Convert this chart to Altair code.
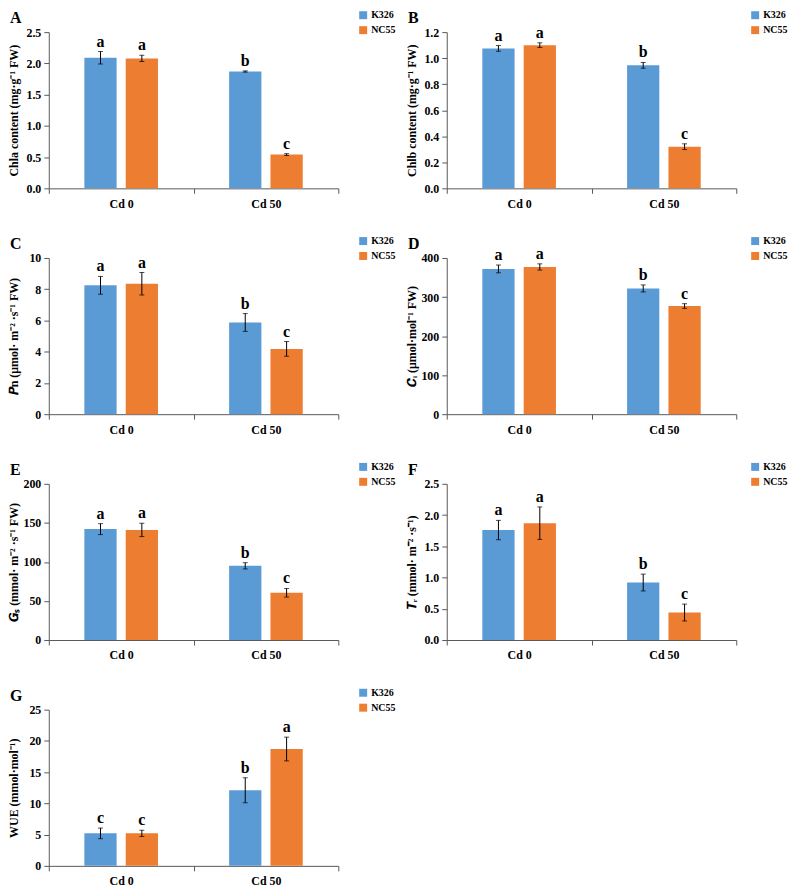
import altair as alt
import pandas as pd

treatments = ["Cd 0", "Cd 50"]
cultivars = ["K326", "NC55"]
colors = ["#5B9BD5", "#ED7D31"]

panel_ids = ["A", "B", "C", "D", "E", "F", "G"]
y_titles = [
    "Chla content (mg·g⁻¹ FW)",
    "Chlb content (mg·g⁻¹ FW)",
    "𝑷n (μmol· m⁻² ·s⁻¹ FW)",
    "𝑪ᵢ (μmol·mol⁻¹ FW)",
    "𝑮ₛ (mmol· m⁻² ·s⁻¹ FW)",
    "𝑻ᵣ (mmol· m⁻² ·s⁻¹)",
    "WUE (mmol·mol⁻¹)",
]
y_ticks = [
    [0, 0.5, 1.0, 1.5, 2.0, 2.5],
    [0, 0.2, 0.4, 0.6, 0.8, 1.0, 1.2],
    [0, 2, 4, 6, 8, 10],
    [0, 100, 200, 300, 400],
    [0, 50, 100, 150, 200],
    [0, 0.5, 1.0, 1.5, 2.0, 2.5],
    [0, 5, 10, 15, 20, 25],
]
y_formats = [".1f", ".1f", "d", "d", "d", ".1f", "d"]

# values per panel: [Cd 0, Cd 50]
k326_mean = [[2.09, 1.87], [1.075, 0.945], [8.25, 5.87], [372, 322], [142, 95], [1.76, 0.92], [5.2, 12.1]]
k326_err = [[0.10, 0.01], [0.022, 0.022], [0.57, 0.57], [10, 9], [7, 4], [0.155, 0.135], [0.85, 2.0]]
nc55_mean = [[2.08, 0.54], [1.10, 0.32], [8.35, 4.18], [377, 277], [141, 60.5], [1.87, 0.44], [5.2, 18.7]]
nc55_err = [[0.05, 0.015], [0.018, 0.022], [0.72, 0.47], [8, 6], [8.5, 5.5], [0.26, 0.135], [0.5, 1.9]]
k326_letters = [["a", "b"], ["a", "b"], ["a", "b"], ["a", "b"], ["a", "b"], ["a", "b"], ["c", "b"]]
nc55_letters = [["a", "c"], ["a", "c"], ["a", "c"], ["a", "c"], ["a", "c"], ["a", "c"], ["c", "a"]]

FONT = "Liberation Serif"
W, H = 291, 157
TOP = -22


def panel(i, legend_x):
    rows = []
    for cv, means, errs, lets in [
        ("K326", k326_mean, k326_err, k326_letters),
        ("NC55", nc55_mean, nc55_err, nc55_letters),
    ]:
        for ti, tr in enumerate(treatments):
            m = means[i][ti]
            e = errs[i][ti]
            rows.append(dict(trt=tr, cv=cv, mean=m, lo=m - e, hi=m + e, letter=lets[i][ti]))
    df = pd.DataFrame(rows)
    ymax = y_ticks[i][-1]
    yscale = alt.Scale(domain=[0, ymax], nice=False, zero=True)
    yaxis = alt.Axis(
        title=y_titles[i],
        values=y_ticks[i],
        format=y_formats[i],
        labelPadding=3,
        labelOverlap=False,
        titleX=-28,
        titleY=H / 2,
        titleAngle=-90,
        titleBaseline="bottom",
        titleAlign="center",
    )
    base = alt.Chart(df).encode(
        x=alt.X(
            "trt:N",
            sort=treatments,
            scale=alt.Scale(paddingInner=0, paddingOuter=0),
            axis=alt.Axis(title=None, tickBand="extent", labelAngle=0, labelPadding=5),
        ),
        xOffset=alt.XOffset(
            "cv:N", sort=cultivars, scale=alt.Scale(paddingInner=0.22, paddingOuter=0.86)
        ),
    )
    bars = base.mark_bar().encode(
        y=alt.Y("mean:Q", scale=yscale, axis=yaxis),
        color=alt.Color(
            "cv:N",
            scale=alt.Scale(domain=cultivars, range=colors),
            legend=alt.Legend(
                orient="none",
                legendX=legend_x,
                legendY=TOP,
                title=None,
                symbolType="square",
                symbolSize=64,
                symbolStrokeWidth=0,
                labelFont=FONT,
                labelFontWeight="bold",
                labelFontSize=10,
                labelColor="black",
                labelOffset=3,
                rowPadding=5,
            ),
        ),
    )
    rules = base.mark_rule(color="black", strokeWidth=1).encode(
        y=alt.Y("lo:Q", scale=yscale, axis=yaxis), y2="hi:Q"
    )
    cap_hi = base.mark_tick(color="black", size=5, thickness=1, orient="horizontal").encode(
        y=alt.Y("hi:Q", scale=yscale, axis=yaxis)
    )
    cap_lo = base.mark_tick(color="black", size=5, thickness=1, orient="horizontal").encode(
        y=alt.Y("lo:Q", scale=yscale, axis=yaxis)
    )
    letters = base.mark_text(
        baseline="bottom", dy=-2, font=FONT, fontSize=16, fontWeight="bold", color="black"
    ).encode(y=alt.Y("hi:Q", scale=yscale, axis=yaxis), text="letter:N")
    label = alt.Chart(pd.DataFrame({"p": [panel_ids[i]]})).mark_text(
        align="left", baseline="top", font=FONT, fontSize=16, fontWeight="bold", color="black"
    ).encode(x=alt.value(-39), y=alt.value(TOP), text="p:N")
    return alt.layer(bars, rules, cap_hi, cap_lo, letters, label).properties(width=W, height=H)


LX_LEFT = 311
LX_RIGHT = 305
panels = [panel(i, LX_LEFT if i % 2 == 0 else LX_RIGHT) for i in range(7)]

chart = (
    alt.concat(*panels, columns=2, spacing={"row": 70, "column": 109}, bounds="flush")
    .resolve_scale(color="independent")
    .properties(padding={"left": 0, "top": 0, "right": 0, "bottom": 0})
    .configure_view(stroke=None)
    .configure_axis(
        grid=False,
        labelFont=FONT,
        labelFontWeight="bold",
        labelFontSize=12,
        labelColor="black",
        titleFont=FONT,
        titleFontWeight="bold",
        titleFontSize=12,
        titleColor="black",
        domainColor="#595959",
        tickColor="#595959",
        tickSize=5,
    )
)

chart.save("out.html", embed_options={"renderer": "svg", "actions": False})
